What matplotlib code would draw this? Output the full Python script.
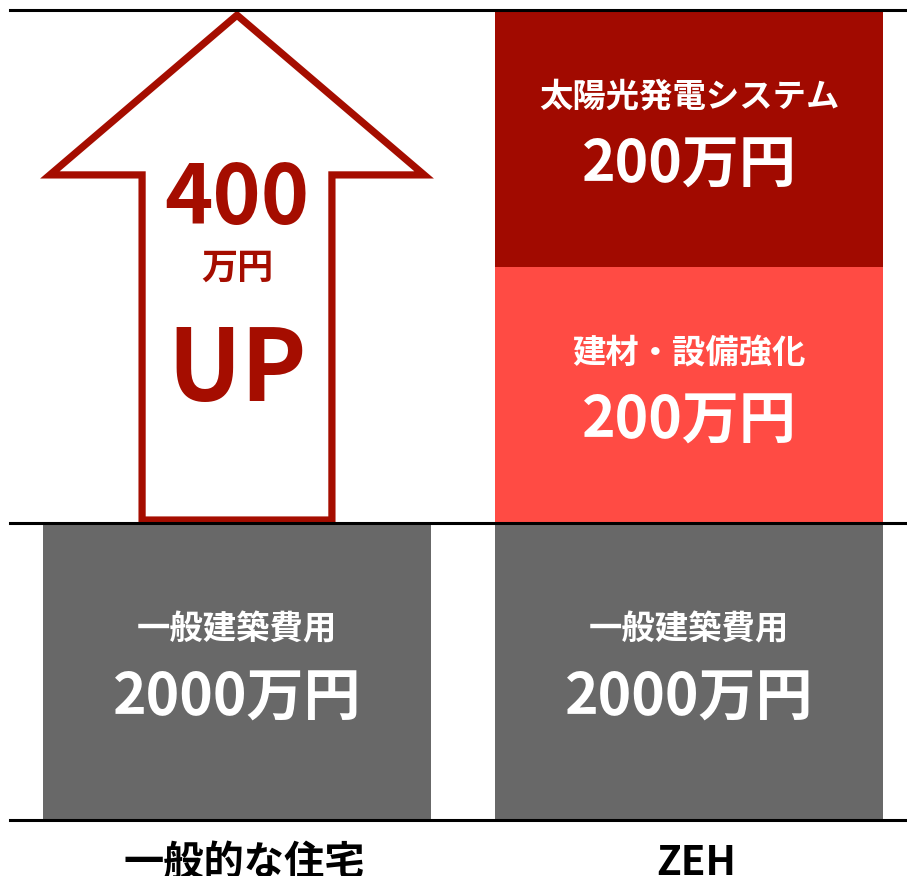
import matplotlib
matplotlib.use("Agg")
from matplotlib import pyplot as plt
from matplotlib.patches import Polygon

plt.rcParams['font.family'] = ['Noto Sans CJK JP', 'DejaVu Sans']

# columns
categories = ["一般的な住宅", "ZEH"]

# stacked segments (schematic, not to scale): name, amount (万円), column, display height
seg_names = ["一般建築費用", "一般建築費用", "建材・設備強化", "太陽光発電システム"]
seg_values = [2000, 2000, 200, 200]
seg_column = [0, 1, 1, 1]
seg_heights = [1.0, 1.0, 0.862, 0.865]
seg_colors = ["#686868", "#686868", "#FF4B44", "#A10A00"]

up_value = 400
arrow_color = "#A50D00"

fig = plt.figure(figsize=(9.07, 8.76), dpi=100)
ax = fig.add_axes([0, 0, 1, 1])

bar_w = 0.858
bottoms = [0.0, 0.0]
for name, val, col, h, c in zip(seg_names, seg_values, seg_column, seg_heights, seg_colors):
    b = bottoms[col]
    ax.bar(col, h, bottom=b, width=bar_w, color=c, linewidth=0)
    mid = b + h / 2
    ax.text(col, mid + 0.14, name, color="white", fontsize=24,
            fontweight="bold", ha="center", va="center")
    ax.text(col, mid - 0.09, f"{val}万円", color="white", fontsize=41,
            fontweight="bold", ha="center", va="center")
    bottoms[col] = b + h

top = max(bottoms)

# horizontal guide lines
for y in [0, 1.0, top]:
    ax.axhline(y, xmin=0.011, xmax=1, color="black", lw=2.2, zorder=3)

# up arrow over the first column (height of the extra cost)
cx = 0
half = bar_w / 2 - 0.015
shaft = 0.21
ybase = 2.172
ytip = top - 0.017
arrow = Polygon([(cx, ytip), (cx - half, ybase), (cx - shaft, ybase),
                 (cx - shaft, 1.0 + 0.01), (cx + shaft, 1.0 + 0.01),
                 (cx + shaft, ybase), (cx + half, ybase)],
                closed=True, facecolor="white", edgecolor=arrow_color,
                lw=5.2, joinstyle="miter", zorder=2)
ax.add_patch(arrow)
ax.text(cx, 2.087, str(up_value), color=arrow_color, fontsize=59,
        fontweight="bold", ha="center", va="center")
ax.text(cx, 1.858, "万円", color=arrow_color, fontsize=26,
        fontweight="bold", ha="center", va="center")
ax.text(cx, 1.51, "UP", color=arrow_color, fontsize=71,
        fontweight="bold", ha="center", va="center")

# category labels
for i, cat in enumerate(categories):
    ax.text(i + 0.015, -0.145, cat, color="black", fontsize=29,
            fontweight="bold", ha="center", va="center")

ax.set_xlim(-237 / 452, 1 + 218 / 452)
ax.set_ylim(-56 / 297, 820 / 297)
ax.axis("off")

fig.savefig("out.png", dpi=100)
